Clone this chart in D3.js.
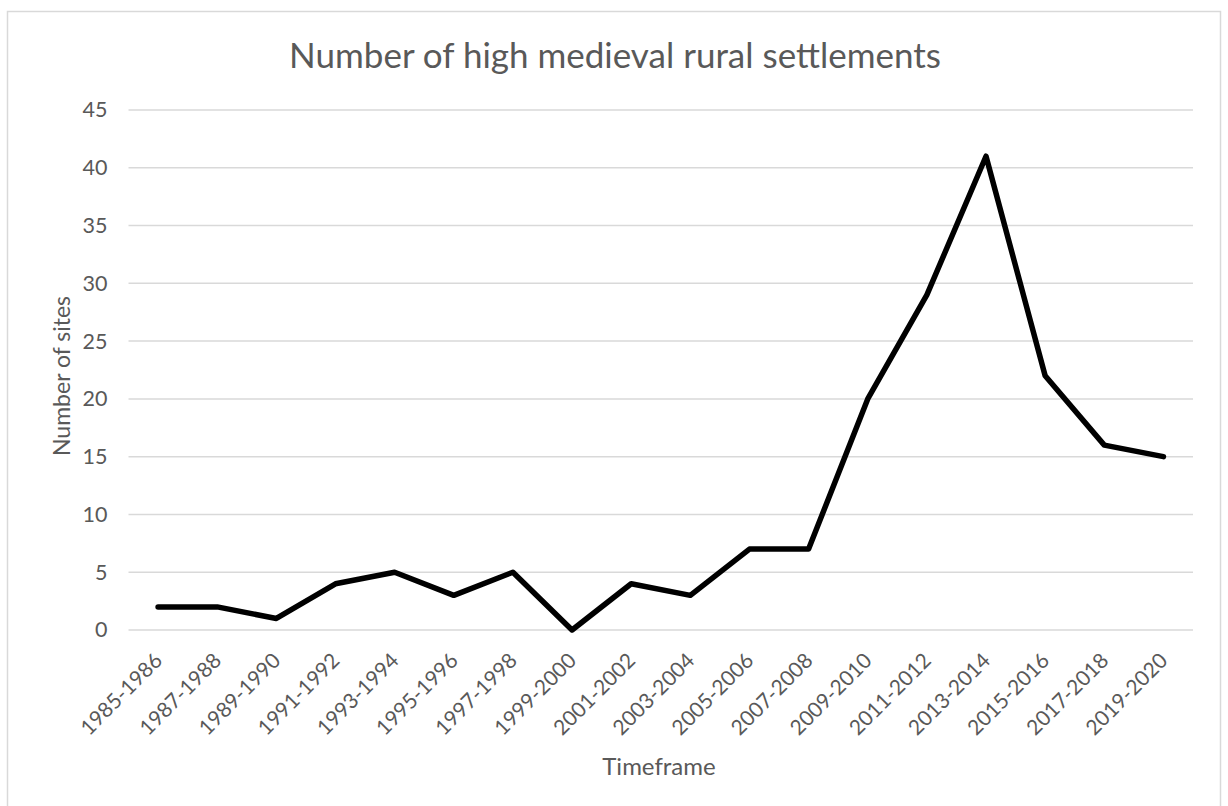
<!DOCTYPE html>
<html><head><meta charset="utf-8">
<script src="https://cdn.jsdelivr.net/npm/d3@7"></script>
<style>body{margin:0;background:#fff;} text{font-family:Lato,"Open Sans",sans-serif;}</style>
</head><body>
<svg id="c" width="1228" height="806"></svg>
<script>
const categories = ["1985-1986","1987-1988","1989-1990","1991-1992","1993-1994","1995-1996","1997-1998","1999-2000","2001-2002","2003-2004","2005-2006","2007-2008","2009-2010","2011-2012","2013-2014","2015-2016","2017-2018","2019-2020"];
const values = [2,2,1,4,5,3,5,0,4,3,7,7,20,29,41,22,16,15];
const yTicks = [0,5,10,15,20,25,30,35,40,45];
const title = "Number of high medieval rural settlements";
const xTitle = "Timeframe";
const yTitle = "Number of sites";

const svg = d3.select("#c");
const m = {left:128.5, right:1193, top:110, bottom:630};
svg.append("rect").attr("x",7.5).attr("y",11.5).attr("width",1213).attr("height",820)
  .attr("fill","#fff").attr("stroke","#d9d9d9").attr("stroke-width",1.5);

const x = d3.scalePoint().domain(categories).range([m.left, m.right]).padding(0.5);
const y = d3.scaleLinear().domain([0,45]).range([m.bottom, m.top]);

const grid = svg.append("g");
grid.selectAll("line").data(yTicks).join("line")
  .attr("x1",m.left).attr("x2",m.right)
  .attr("y1",d=>y(d)).attr("y2",d=>y(d))
  .attr("stroke","#d9d9d9").attr("stroke-width",1.5);

const yAxis = svg.append("g").attr("transform",`translate(${m.left},0)`)
  .call(d3.axisLeft(y).tickValues(yTicks).tickSize(0).tickPadding(21));
yAxis.select(".domain").remove();
yAxis.selectAll("text").attr("fill","#595959").style("font-size","21.5px");

const xAxis = svg.append("g").attr("transform",`translate(0,${m.bottom})`)
  .call(d3.axisBottom(x).tickSize(0).tickPadding(0));
xAxis.select(".domain").remove();
xAxis.selectAll("text").attr("fill","#595959").style("font-size","21px")
  .attr("text-anchor","end").attr("dy",null).attr("y",0)
  .attr("transform","translate(5,32) rotate(-45)");

svg.append("path").datum(values)
  .attr("fill","none").attr("stroke","#000").attr("stroke-width",5.5)
  .attr("stroke-linejoin","round").attr("stroke-linecap","round")
  .attr("d", d3.line().x((d,i)=>x(categories[i])).y(d=>y(d)));

svg.append("text").attr("x",615).attr("y",68).attr("text-anchor","middle")
  .attr("fill","#595959").style("font-size","35px").text(title);
svg.append("text").attr("x",659).attr("y",775).attr("text-anchor","middle")
  .attr("fill","#595959").style("font-size","24px").text(xTitle);
svg.append("text").attr("transform","translate(70,376) rotate(-90)").attr("text-anchor","middle")
  .attr("fill","#595959").style("font-size","23px").text(yTitle);
</script>
</body></html>
